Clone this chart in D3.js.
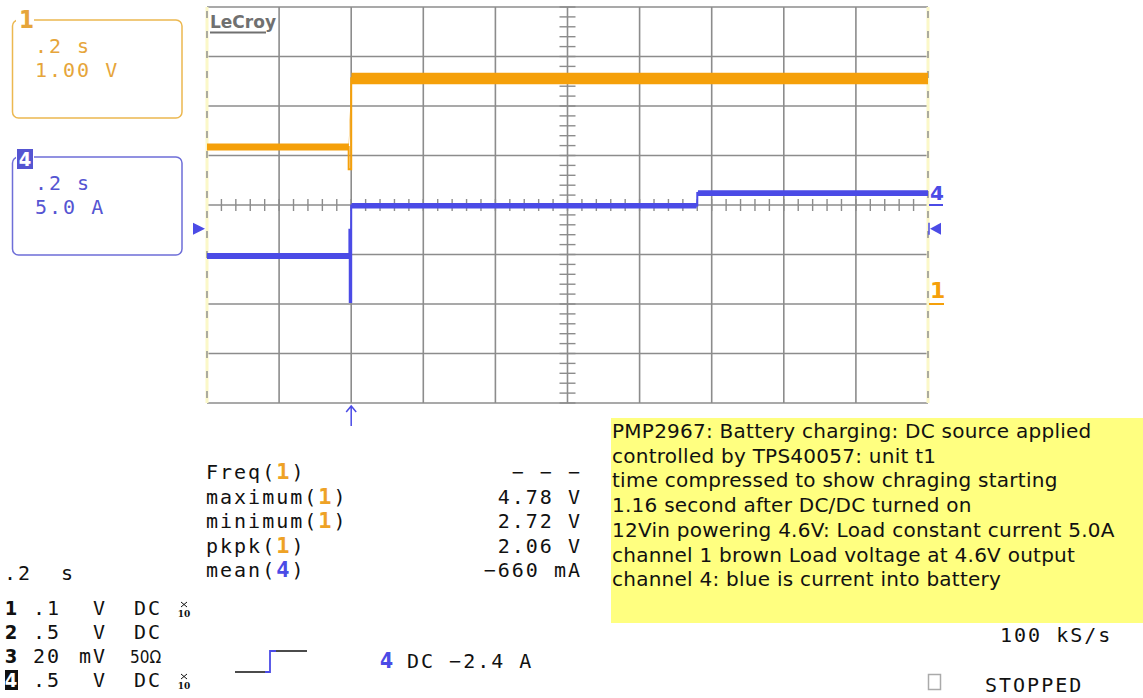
<!DOCTYPE html>
<html>
<head>
<meta charset="utf-8">
<script src="https://cdn.jsdelivr.net/npm/d3@7"></script>
<style>
  body { margin: 0; background: #fff; }
  svg { display: block; }
  .mono { font-family: "DejaVu Sans Mono", monospace; font-size: 20px; letter-spacing: 2px; fill: #111; }
  .note { font-family: "DejaVu Sans", sans-serif; font-size: 20px; letter-spacing: 0.25px; fill: #111; }
</style>
</head>
<body>
<svg width="1143" height="698"></svg>
<script>
// screen ranges: 0.2 s/div x 10, ch1 1 V/div x 8, ch4 5 A/div x 8
var timeRange = [-0.4, 1.6];
var ch1Range = [-2, 6];
var ch4Range = [-20, 20];
var trigLevel = -2.4;

// channel 1 (load voltage), centre of the trace
var ch1T = [-0.4, -0.007, -0.007, 0, 0, 1.6];
var ch1V = [3.17, 3.17, 2.72, 2.72, 4.56, 4.56];
// channel 1 noise band
var ch1BandT = [-0.4, -0.007, 0.001, 1.6];
var ch1Lo = [3.10, 3.10, 4.44, 4.44];
var ch1Hi = [3.24, 3.24, 4.67, 4.67];

// channel 4 (battery current)
var ch4T = [-0.4, -0.005, -0.005, -0.004, -0.004, 0, 0, 0.96, 0.96, 1.6];
var ch4A = [-5.15, -5.15, -2.5, -2.5, -9.8, -9.8, -0.05, -0.05, 1.2, 1.2];
var ch4BandT = [-0.4, -0.005, 0.001, 0.958, 0.962, 1.6];
var ch4Lo = [-5.45, -5.45, -0.35, -0.35, 0.9, 0.9];
var ch4Hi = [-4.85, -4.85, 0.2, 0.2, 1.5, 1.5];

var measNames = ["Freq", "maximum", "minimum", "pkpk", "mean"];
var measChan = ["1", "1", "1", "1", "4"];
var measValues = ["\u2212 \u2212 \u2212", "4.78 V", "2.72 V", "2.06 V", "\u2212660 mA"];

var chanNums = ["1", "2", "3", "4"];
var chanScale = [".1", ".5", "20", ".5"];
var chanUnit = ["V", "V", "mV", "V"];
var chanCoupling = ["DC", "DC", "50\u03A9", "DC"];
var chanProbe = [true, false, false, true];

var noteLines = [
  "PMP2967: Battery charging: DC source applied",
  "controlled by TPS40057: unit t1",
  "time compressed to show chraging starting",
  "1.16 second after DC/DC turned on",
  "12Vin powering 4.6V: Load constant current 5.0A",
  "channel 1 brown Load voltage at 4.6V output",
  "channel 4: blue is current into battery"
];

var orange = "#f5a00a", blue = "#4b4be6", gridCol = "#8c8c8c";
var boxOrange = "#ecb850", boxBlue = "#6e6ed8";

var svg = d3.select("svg");
var plotL = 207, plotR = 928, plotT = 7, plotB = 403;

var x = d3.scaleLinear().domain(timeRange).range([plotL, plotR]);
var y1 = d3.scaleLinear().domain(ch1Range).range([plotB, plotT]);
var y4 = d3.scaleLinear().domain(ch4Range).range([plotB, plotT]);

// grid
var grid = svg.append("g");
var xDivs = d3.range(1, 10).map(function(i) { return timeRange[0] + i * 0.2; });
var yDivs = d3.range(ch1Range[0], ch1Range[1] + 1);
grid.selectAll(".vx").data(xDivs).enter().append("line")
  .attr("x1", function(d) { return x(d); }).attr("x2", function(d) { return x(d); })
  .attr("y1", plotT).attr("y2", plotB)
  .attr("stroke", gridCol).attr("stroke-width", 1.6);
grid.selectAll(".hy").data(yDivs).enter().append("line")
  .attr("x1", plotL).attr("x2", plotR)
  .attr("y1", function(d) { return y1(d); }).attr("y2", function(d) { return y1(d); })
  .attr("stroke", gridCol).attr("stroke-width", 1.6);

// minor ticks on the centre lines
var yc = y4(0), xc = x(0.6);
grid.selectAll(".mtx").data(d3.range(0, 51)).enter().append("line")
  .attr("x1", function(i) { return x(timeRange[0] + i * 0.04); })
  .attr("x2", function(i) { return x(timeRange[0] + i * 0.04); })
  .attr("y1", yc - 6).attr("y2", yc + 6)
  .attr("stroke", gridCol).attr("stroke-width", 1.4);
grid.selectAll(".mty").data(d3.range(0, 41)).enter().append("line")
  .attr("x1", xc - 8).attr("x2", xc + 8)
  .attr("y1", function(i) { return y1(ch1Range[0] + i * 0.2); })
  .attr("y2", function(i) { return y1(ch1Range[0] + i * 0.2); })
  .attr("stroke", gridCol).attr("stroke-width", 1.4);

// side edges: pale yellow with grey dashes
[plotL, plotR].forEach(function(ex) {
  grid.append("line").attr("x1", ex).attr("x2", ex).attr("y1", plotT).attr("y2", plotB)
    .attr("stroke", "#fbf8c8").attr("stroke-width", 3);
  grid.append("line").attr("x1", ex).attr("x2", ex).attr("y1", plotT + 4).attr("y2", plotB)
    .attr("stroke", gridCol).attr("stroke-width", 1.4).attr("stroke-dasharray", "7,13");
});

// LeCroy logo
svg.append("text").attr("x", 210).attr("y", 28)
  .attr("font-family", "DejaVu Sans").attr("font-weight", "bold").attr("font-size", 17)
  .attr("fill", "#707070").text("LeCroy");
svg.append("line").attr("x1", 210).attr("x2", 266).attr("y1", 32.5).attr("y2", 32.5)
  .attr("stroke", "#707070").attr("stroke-width", 2);

// traces
function pts(ts, vs) { return ts.map(function(t, i) { return { t: t, v: vs[i] }; }); }
function band(ts, lo, hi) { return ts.map(function(t, i) { return { t: t, lo: lo[i], hi: hi[i] }; }); }

svg.append("path").datum(band(ch1BandT, ch1Lo, ch1Hi))
  .attr("fill", orange)
  .attr("d", d3.area().x(function(d) { return x(d.t); })
    .y0(function(d) { return y1(d.lo); }).y1(function(d) { return y1(d.hi); }));
svg.append("path").datum(pts(ch1T, ch1V))
  .attr("fill", "none").attr("stroke", orange).attr("stroke-width", 2)
  .attr("d", d3.line().x(function(d) { return x(d.t); }).y(function(d) { return y1(d.v); }));

svg.append("path").datum(band(ch4BandT, ch4Lo, ch4Hi))
  .attr("fill", blue)
  .attr("d", d3.area().x(function(d) { return x(d.t); })
    .y0(function(d) { return y4(d.lo); }).y1(function(d) { return y4(d.hi); }));
svg.append("path").datum(pts(ch4T, ch4A))
  .attr("fill", "none").attr("stroke", blue).attr("stroke-width", 2)
  .attr("d", d3.line().x(function(d) { return x(d.t); }).y(function(d) { return y4(d.v); }));

// ground markers on the right
svg.append("text").attr("x", 930).attr("y", 200)
  .attr("font-family", "DejaVu Sans").attr("font-weight", "bold").attr("font-size", 20)
  .attr("fill", blue).text("4");
svg.append("line").attr("x1", 929).attr("x2", 943).attr("y1", y4(0)).attr("y2", y4(0))
  .attr("stroke", blue).attr("stroke-width", 2);
svg.append("text").attr("x", 930).attr("y", 298)
  .attr("font-family", "DejaVu Sans").attr("font-weight", "bold").attr("font-size", 22)
  .attr("fill", orange).text("1");
svg.append("line").attr("x1", 929).attr("x2", 944).attr("y1", y1(0)).attr("y2", y1(0))
  .attr("stroke", orange).attr("stroke-width", 2);

// trigger level and trigger time markers
var ty = y4(trigLevel);
svg.append("path").attr("fill", blue)
  .attr("d", "M193," + (ty - 6) + "L205," + ty + "L193," + (ty + 6) + "Z");
svg.append("path").attr("fill", blue)
  .attr("d", "M941," + (ty - 6) + "L930," + ty + "L941," + (ty + 6) + "Z");
svg.append("line").attr("x1", 929).attr("x2", 929).attr("y1", ty - 6).attr("y2", ty + 6)
  .attr("stroke", blue).attr("stroke-width", 1.5);
var tx = x(0);
svg.append("path").attr("fill", "none").attr("stroke", blue).attr("stroke-width", 1.5)
  .attr("d", "M" + tx + ",406L" + tx + ",426M" + (tx - 5) + ",412L" + tx + ",406L" + (tx + 5) + ",412");

// channel boxes
function chanBox(y0, col, textCol, lines) {
  svg.append("rect").attr("x", 12.5).attr("y", y0).attr("width", 169.5).attr("height", 98)
    .attr("rx", 6).attr("fill", "none").attr("stroke", col).attr("stroke-width", 1.5);
  svg.append("rect").attr("x", 16).attr("y", y0 - 10).attr("width", 18).attr("height", 20).attr("fill", "#fff");
  lines.forEach(function(s, i) {
    svg.append("text").attr("class", "mono").attr("x", 35).attr("y", y0 + 33 + i * 24)
      .style("fill", textCol).text(s);
  });
}
chanBox(20, boxOrange, "#e6a53a", [".2 s", "1.00 V"]);
chanBox(157, boxBlue, "#5555d2", [".2 s", "5.0 A"]);
svg.append("text").attr("x", 19).attr("y", 28)
  .attr("font-family", "DejaVu Sans Condensed, DejaVu Sans").attr("font-weight", "bold").attr("font-size", 24)
  .attr("fill", "#e6a53a").text("1");
svg.append("rect").attr("x", 17).attr("y", 149).attr("width", 16).attr("height", 20).attr("fill", "#5555d2");
svg.append("text").attr("x", 25).attr("y", 166).attr("text-anchor", "middle")
  .attr("font-family", "DejaVu Sans Condensed, DejaVu Sans").attr("font-weight", "bold").attr("font-size", 20)
  .attr("fill", "#fff").text("4");

// measurements
var meas = svg.append("g");
measNames.forEach(function(n, i) {
  var yy = 479 + i * 24.5;
  var t = meas.append("text").attr("class", "mono").attr("x", 206).attr("y", yy);
  t.append("tspan").text(n + "(");
  t.append("tspan").style("font-weight", "bold").style("font-size", "22px")
    .style("fill", measChan[i] === "1" ? "#eea226" : blue).text(measChan[i]);
  t.append("tspan").text(")");
  meas.append("text").attr("class", "mono").attr("x", 582).attr("y", yy)
    .attr("text-anchor", "end").text(measValues[i]);
});

// timebase and channel settings
svg.append("text").attr("class", "mono").attr("x", 4).attr("y", 580).text(".2");
svg.append("text").attr("class", "mono").attr("x", 61).attr("y", 580).text("s");
chanNums.forEach(function(n, i) {
  var yy = 615 + i * 24;
  if (i === 3) {
    svg.append("rect").attr("x", 5).attr("y", yy - 17).attr("width", 13).attr("height", 20).attr("fill", "#111");
  }
  svg.append("text").attr("x", 11).attr("y", yy).attr("text-anchor", "middle")
    .attr("font-family", "DejaVu Sans Condensed, DejaVu Sans").attr("font-weight", "bold").attr("font-size", 20)
    .attr("fill", i === 3 ? "#fff" : "#111").text(n);
  svg.append("text").attr("class", "mono").attr("x", 33).attr("y", yy).text(chanScale[i]);
  svg.append("text").attr("class", "mono").attr("x", 107).attr("y", yy)
    .attr("text-anchor", "end").text(chanUnit[i]);
  var c = svg.append("text").attr("class", "mono").attr("x", chanCoupling[i] === "DC" ? 134 : 130).attr("y", yy).text(chanCoupling[i]);
  if (chanCoupling[i] !== "DC") {
    c.style("font-family", "DejaVu Sans Condensed, DejaVu Sans").style("font-size", "17px").style("letter-spacing", "0px");
  }
  if (chanProbe[i]) {
    // small "x" drawn as a glyph above the 10
    svg.append("path").attr("fill", "none").attr("stroke", "#111").attr("stroke-width", 1)
      .attr("d", "M181," + (yy - 13) + "L187," + (yy - 8) + "M187," + (yy - 13) + "L181," + (yy - 8));
    svg.append("text").attr("x", 184).attr("y", yy + 2).attr("text-anchor", "middle")
      .attr("font-family", "DejaVu Serif").attr("font-weight", "bold").attr("font-size", 9).attr("fill", "#111").text("10");
  }
});

// trigger setup icon and text
svg.append("path").attr("fill", "none").attr("stroke", "#111").attr("stroke-width", 1.6)
  .attr("d", "M235,672L266,672M275,651L307,651");
svg.append("path").attr("fill", "none").attr("stroke", blue).attr("stroke-width", 1.8)
  .attr("d", "M265,672L270,672L270,651L276,651");
svg.append("text").attr("x", 380).attr("y", 668)
  .attr("font-family", "DejaVu Sans Condensed, DejaVu Sans").attr("font-weight", "bold").attr("font-size", 21)
  .attr("fill", blue).text("4");
svg.append("text").attr("class", "mono").attr("x", 407).attr("y", 668).text("DC \u22122.4 A");

// note box
svg.append("rect").attr("x", 611).attr("y", 418).attr("width", 532).attr("height", 205).attr("fill", "#ffff80");
svg.selectAll(".note").data(noteLines).enter().append("text")
  .attr("class", "note").attr("x", 612)
  .attr("y", function(d, i) { return 438 + i * 24.7; })
  .text(function(d) { return d; });

// acquisition status
svg.append("text").attr("class", "mono").attr("x", 1000).attr("y", 642).text("100 kS/s");
svg.append("rect").attr("x", 928.5).attr("y", 674.5).attr("width", 12).attr("height", 15)
  .attr("fill", "none").attr("stroke", "#aaa").attr("stroke-width", 1.5);
svg.append("text").attr("class", "mono").attr("x", 985).attr("y", 692).text("STOPPED");
</script>
</body>
</html>
